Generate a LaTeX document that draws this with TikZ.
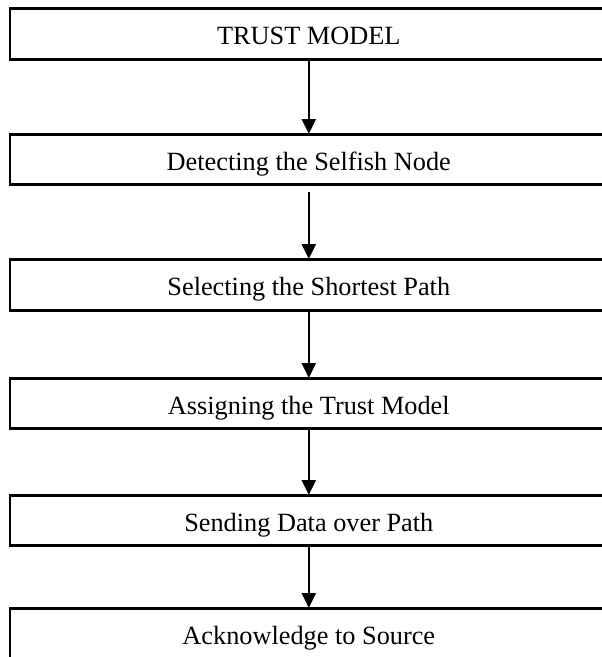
\documentclass[tikz,border=0pt]{standalone}
\usepackage{fontspec}
\setmainfont{Liberation Serif}
\usetikzlibrary{arrows.meta}
\tikzset{
  stepbox/.style={draw=black, line width=2.6pt, minimum width=598pt, minimum height=50pt, inner sep=0pt, text height=22pt, text depth=0pt, font=\fontsize{26.3}{28}\selectfont, anchor=north west},
  flow/.style={line width=2.2pt, -{Triangle[width=14pt,length=15pt]}, shorten >=-1pt}
}
\begin{document}
\begin{tikzpicture}[x=1pt,y=-1pt]
\useasboundingbox (0,0) rectangle (602,657);
\node[stepbox, minimum height=51pt] (b1) at (8.5,7) {TRUST MODEL};
\node[stepbox] (b2) at (8.5,133) {Detecting the Selfish Node};
\node[stepbox, minimum height=51pt] (b3) at (8.5,258) {Selecting the Shortest Path};
\node[stepbox] (b4) at (8.5,377) {Assigning the Trust Model};
\node[stepbox] (b5) at (8.5,494) {Sending Data over Path};
\node[stepbox] (b6) at (8.5,607) {Acknowledge to Source};
\draw[flow] (b1.south) -- (b2.north);
\draw[flow] ([yshift=-6pt]b2.south) -- (b3.north);
\draw[flow] (b3.south) -- (b4.north);
\draw[flow] (b4.south) -- (b5.north);
\draw[flow] (b5.south) -- (b6.north);
\end{tikzpicture}
\end{document}
